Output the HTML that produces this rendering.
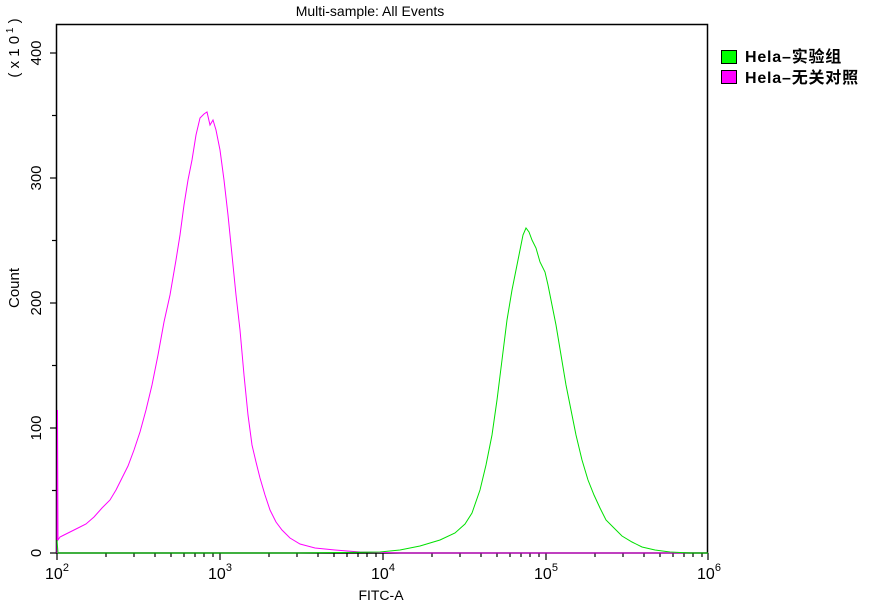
<!DOCTYPE html>
<html><head><meta charset="utf-8"><style>
body{margin:0;background:#fff;}
svg{display:block;font-family:"Liberation Sans","Noto Sans CJK SC",sans-serif;}
</style></head><body>
<svg width="891" height="605" viewBox="0 0 891 605" xmlns="http://www.w3.org/2000/svg">
<text x="370" y="16" font-size="14" text-anchor="middle">Multi-sample: All Events</text>
<rect x="56.5" y="24.5" width="651" height="528.5" fill="none" stroke="#000" stroke-width="1.5"/>
<g stroke="#000" stroke-width="1.2">
<line x1="50" y1="553" x2="56" y2="553"/><line x1="52" y1="490.5" x2="56" y2="490.5"/>
<line x1="50" y1="428" x2="56" y2="428"/><line x1="52" y1="365.5" x2="56" y2="365.5"/>
<line x1="50" y1="303" x2="56" y2="303"/><line x1="52" y1="240.5" x2="56" y2="240.5"/>
<line x1="50" y1="178" x2="56" y2="178"/><line x1="52" y1="115.5" x2="56" y2="115.5"/>
<line x1="50" y1="53" x2="56" y2="53"/>
</g>
<g font-size="15" text-anchor="middle">
<text transform="translate(41,553) rotate(-90)">0</text>
<text transform="translate(41,428) rotate(-90)">100</text>
<text transform="translate(41,303) rotate(-90)">200</text>
<text transform="translate(41,178) rotate(-90)">300</text>
<text transform="translate(41,53) rotate(-90)">400</text>
<text transform="translate(19,288) rotate(-90)">Count</text>
<text transform="translate(19,48) rotate(-90)">( x 1 0<tspan font-size="10" dy="-6"> 1</tspan><tspan dy="6"> )</tspan></text>
</g>
<g font-size="16" text-anchor="middle">
<text x="57" y="579">10<tspan font-size="11" dy="-8">2</tspan></text>
<text x="220" y="579">10<tspan font-size="11" dy="-8">3</tspan></text>
<text x="383" y="579">10<tspan font-size="11" dy="-8">4</tspan></text>
<text x="546" y="579">10<tspan font-size="11" dy="-8">5</tspan></text>
<text x="709" y="579">10<tspan font-size="11" dy="-8">6</tspan></text>
<text x="381" y="600" font-size="14">FITC-A</text>
</g>
<g stroke="#000" stroke-width="1.2">
<line x1="57" y1="553" x2="57" y2="560"/><line x1="220" y1="553" x2="220" y2="560"/>
<line x1="383" y1="553" x2="383" y2="560"/><line x1="546" y1="553" x2="546" y2="560"/>
<line x1="708" y1="553" x2="708" y2="560"/>
<path d="M106,553v4M134,553v4M155,553v4M171,553v4M184,553v4M195,553v4M204,553v4M213,553v4
M269,553v4M297,553v4M318,553v4M334,553v4M347,553v4M358,553v4M367,553v4M376,553v4
M432,553v4M460,553v4M481,553v4M497,553v4M510,553v4M521,553v4M530,553v4M539,553v4
M595,553v4M623,553v4M644,553v4M660,553v4M673,553v4M684,553v4M693,553v4M702,553v4"/>
</g>
<polyline fill="none" stroke="#ff00ff" stroke-width="1" points="57,553 57.5,410 58,540 60,537 64,535 70,532 78,528 86,524 94,517 102,508 110,500 116,490 122,478 128,466 134,450 140,432 146,410 152,385 158,355 164,322 170,295 176,260 180,235 184,205 188,180 192,160 196,135 200,118 204,114 207,112 210,125 213,120 216,130 220,150 224,180 228,215 232,255 236,295 240,330 244,375 248,415 252,445 256,462 260,478 265,495 270,510 276,522 282,530 290,538 300,544 315,548 335,550 360,552 400,553 708,553"/>
<polyline fill="none" stroke="#00e000" stroke-width="1" points="57,540 58,553 120,553 300,553 380,552 400,550 420,546 440,540 455,533 465,524 472,513 480,490 486,465 492,435 497,400 502,360 507,320 512,290 516,270 520,250 523,235 526,228 529,232 532,240 536,248 540,262 545,272 548,285 552,305 556,325 561,355 566,385 571,410 576,435 582,460 588,480 594,495 600,508 606,520 614,528 622,536 632,542 642,547 655,550 670,552 690,553 708,553"/>
<rect x="721.5" y="50.5" width="15" height="13" fill="#00ff00" stroke="#000"/>
<rect x="721.5" y="70.5" width="15" height="13" fill="#ff00ff" stroke="#000"/>
<text x="745" y="62" font-size="16" font-weight="bold" letter-spacing="0.8">Hela–实验组</text>
<text x="745" y="83" font-size="16" font-weight="bold" letter-spacing="0.8">Hela–无关对照</text>
</svg>
</body></html>
